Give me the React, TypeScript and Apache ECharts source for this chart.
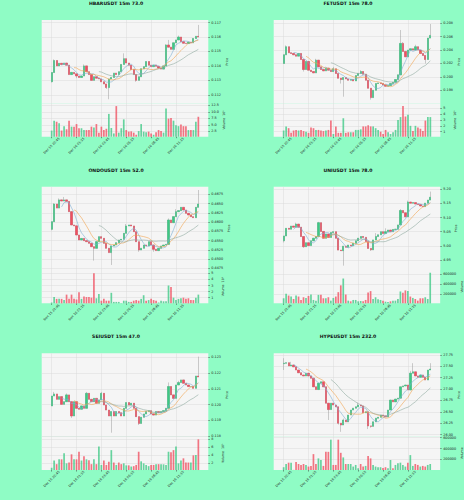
import React, { useEffect, useRef } from "react";
import * as echarts from "echarts";

const FONT = "DejaVu Sans";
const PAGE_BG = "#8ffcc5";
const PLOT_BG = "#f5f5f5";
const GRID_COLOR = "#dadada";
const UP = "#3dc985";
const DOWN = "#ef4f60";
const UP_VOL = "rgba(61,201,133,0.78)";
const DOWN_VOL = "rgba(239,79,96,0.78)";
const WICK = "#9a9a9a";
const MA_PERIODS = [5, 10, 20];
const MA_COLORS = ["#7eaed4", "#f2a24e", "#8fa99f"];

// time axis: 60 candles of 15m, 4 empty slots on each side
const PAD = 4;
const N = 60;
const START_DAY = 15;
const START_MIN = 21 * 60 + 45; // Dec 15 21:45 (4 slots before first candle)
const two = (v: number) => (v < 10 ? "0" + v : "" + v);
const categories: string[] = Array.from({ length: N + 2 * PAD }, (_, k) => {
  const m = START_MIN + 15 * k;
  const d = START_DAY + Math.floor(m / 1440);
  const mm = m % 1440;
  return `Dec ${d} ${two(Math.floor(mm / 60))}:${two(mm % 60)}`;
});

const TITLES = [
  "HBARUSDT 15m 73.0",
  "FETUSDT 15m 78.0",
  "ONDOUSDT 15m 52.0",
  "UNIUSDT 15m 78.0",
  "SEIUSDT 15m 47.0",
  "HYPEUSDT 15m 232.0",
];

// ---------- HBAR ----------
const HBAR_OPEN0 = 0.11291;
const HBAR_CLOSE = [
  0.11354, 0.11437, 0.114, 0.11418, 0.1141, 0.1142, 0.11405, 0.1134, 0.11355, 0.11345,
  0.1133, 0.1132, 0.1133, 0.114, 0.1136, 0.1134, 0.113, 0.11325, 0.11315, 0.1131,
  0.1129, 0.11275, 0.1125, 0.1131, 0.1132, 0.1135, 0.1134, 0.1136, 0.1141, 0.1145,
  0.1142, 0.11405, 0.11375, 0.1134, 0.113, 0.11325, 0.1138, 0.11395, 0.1143, 0.11405,
  0.11395, 0.11405, 0.11398, 0.11385, 0.11378, 0.114, 0.11545, 0.1153, 0.11515, 0.1156,
  0.1158, 0.116, 0.11568, 0.11557, 0.11555, 0.11565, 0.1156, 0.1159, 0.11605, 0.116,
];
const HBAR_HIGH: Record<number, number> = { 1: 0.11445, 13: 0.1141, 29: 0.11487, 46: 0.1155, 47: 0.1158, 51: 0.1161, 59: 0.11684 };
const HBAR_LOW: Record<number, number> = { 0: 0.11285, 10: 0.11315, 22: 0.1124, 23: 0.11169, 34: 0.1129 };
const HBAR_VOL = [
  2.8, 6.6, 6.2, 5.6, 2.8, 4.5, 3.3, 6.6, 4.3, 4.3,
  5.3, 3.7, 3.7, 3.0, 3.0, 3.0, 4.3, 4.0, 5.3, 2.0,
  4.3, 3.0, 3.5, 9.2, 3.8, 1.7, 12.2, 2.0, 3.7, 7.1,
  3.0, 2.4, 2.5, 2.0, 1.2, 2.6, 5.3, 2.4, 2.2, 2.4,
  1.7, 1.2, 2.2, 3.0, 2.6, 2.0, 11.3, 7.4, 7.6, 6.6,
  4.8, 4.5, 5.1, 4.5, 4.5, 3.0, 3.0, 3.0, 6.2, 8.1,
];
const HBAR_PRICE_TICKS = [0.112, 0.113, 0.114, 0.115, 0.116, 0.117];
const HBAR_VOL_TICKS = [2.5, 5, 7.5, 10, 12.5];

// ---------- FET ----------
const FET_OPEN0 = 0.202;
const FET_CLOSE = [
  0.2033, 0.2045, 0.2036, 0.2035, 0.2033, 0.2031, 0.2035, 0.2026, 0.2011, 0.2023,
  0.201, 0.2008, 0.2006, 0.2025, 0.2015, 0.2011, 0.2009, 0.2013, 0.201, 0.2008,
  0.2012, 0.2005, 0.1998, 0.1996, 0.1999, 0.1997, 0.1995, 0.1996, 0.1994, 0.2002,
  0.2005, 0.2008, 0.2004, 0.1995, 0.1983, 0.1969, 0.198, 0.199, 0.1991, 0.199,
  0.1988, 0.1986, 0.1987, 0.199, 0.1992, 0.1996, 0.2003, 0.205, 0.2038, 0.203,
  0.204, 0.2042, 0.204, 0.2045, 0.204, 0.2035, 0.2032, 0.2026, 0.2058, 0.2062,
];
const FET_HIGH: Record<number, number> = { 1: 0.2047, 13: 0.2027, 20: 0.2015, 31: 0.201, 47: 0.207, 48: 0.2052, 53: 0.2048, 59: 0.2079 };
const FET_LOW: Record<number, number> = { 8: 0.2008, 23: 0.199, 24: 0.19704, 35: 0.1966, 57: 0.202 };
const FET_VOL = [
  1.2, 1.9, 1.6, 0.8, 1.2, 1.3, 1.2, 1.3, 1.1, 1.0,
  0.8, 1.7, 1.6, 1.3, 1.3, 1.2, 1.1, 1.2, 1.3, 2.9,
  0.6, 1.9, 0.8, 0.8, 3.3, 0.8, 0.9, 0.9, 0.9, 1.3,
  1.3, 1.4, 1.9, 1.9, 2.1, 1.9, 1.9, 1.6, 1.3, 1.0,
  0.6, 1.3, 0.9, 0.6, 0.9, 1.3, 3.0, 3.5, 5.4, 3.6,
  3.9, 2.0, 1.1, 2.0, 1.7, 1.5, 1.1, 2.9, 3.5, 3.5,
];
const FET_PRICE_TICKS = [0.198, 0.2, 0.202, 0.204, 0.206, 0.208];
const FET_VOL_TICKS = [1, 2, 3, 4, 5];

// ---------- ONDO ----------
const ONDO_OPEN0 = 0.45806;
const ONDO_CLOSE = [
  0.46013, 0.46489, 0.4638, 0.466, 0.4657, 0.466, 0.4656, 0.46283, 0.45923, 0.459,
  0.45653, 0.45518, 0.4556, 0.455, 0.45473, 0.45428, 0.45338, 0.45294, 0.45473, 0.45608,
  0.45563, 0.45428, 0.45294, 0.45177, 0.45356, 0.45383, 0.45446, 0.45518, 0.45536, 0.45698,
  0.45896, 0.45923, 0.45896, 0.45743, 0.45473, 0.45249, 0.45294, 0.45383, 0.45356, 0.45473,
  0.45383, 0.45267, 0.45231, 0.45294, 0.45356, 0.45383, 0.454, 0.46058, 0.45986, 0.46148,
  0.46283, 0.4631, 0.46399, 0.46327, 0.46238, 0.46193, 0.46148, 0.46121, 0.46399, 0.46489,
];
const ONDO_HIGH: Record<number, number> = { 1: 0.4651, 3: 0.4664, 5: 0.4668, 30: 0.4595, 47: 0.461, 50: 0.4635, 59: 0.46867 };
const ONDO_LOW: Record<number, number> = { 0: 0.4578, 17: 0.44961, 24: 0.44844, 35: 0.452, 41: 0.452 };
const ONDO_VOL = [
  0.2, 1.1, 0.8, 0.8, 0.8, 0.6, 1.5, 0.8, 1.5, 0.8,
  0.7, 1.9, 0.8, 1.2, 1.1, 1.1, 1.0, 5.0, 0.9, 1.6,
  0.5, 0.8, 0.5, 0.5, 1.8, 0.3, 0.3, 0.3, 0.1, 0.5,
  0.5, 0.3, 0.3, 0.5, 0.6, 0.5, 0.8, 1.4, 0.5, 0.6,
  0.8, 0.6, 0.5, 0.2, 0.5, 0.4, 0.4, 3.0, 2.75, 1.0,
  0.6, 0.8, 0.9, 1.0, 0.8, 0.9, 0.6, 0.6, 1.0, 1.5,
];
const ONDO_PRICE_TICKS = [0.4475, 0.45, 0.4525, 0.455, 0.4575, 0.46, 0.4625, 0.465, 0.4675];
const ONDO_VOL_TICKS = [1, 2, 3, 4, 5];

// ---------- UNI ----------
const UNI_OPEN0 = 5.018;
const UNI_CLOSE = [
  5.035, 5.062, 5.059, 5.07, 5.066, 5.077, 5.066, 5.033, 4.997, 5.011,
  5.001, 5.018, 5.027, 5.033, 5.082, 5.051, 5.027, 5.042, 5.03, 5.047,
  5.05, 5.027, 4.985, 4.983, 4.999, 4.995, 5.003, 5.0, 5.009, 5.018,
  5.027, 5.033, 5.03, 5.015, 4.991, 4.986, 5.021, 5.033, 5.039, 5.05,
  5.044, 5.05, 5.056, 5.05, 5.058, 5.059, 5.074, 5.125, 5.117, 5.103,
  5.155, 5.151, 5.153, 5.148, 5.146, 5.141, 5.139, 5.151, 5.162, 5.172,
];
const UNI_HIGH: Record<number, number> = { 5: 5.082, 14: 5.085, 37: 5.045, 41: 5.062, 47: 5.13, 50: 5.16, 59: 5.192 };
const UNI_LOW: Record<number, number> = { 0: 5.012, 8: 4.993, 24: 4.93, 35: 4.982 };
const UNI_VOL = [
  117, 207, 172, 152, 103, 172, 152, 83, 138, 124,
  165, 193, 83, 69, 186, 186, 117, 117, 138, 69,
  124, 152, 241, 379, 517, 193, 69, 55, 83, 83,
  55, 62, 55, 83, 234, 262, 103, 138, 97, 83,
  69, 48, 41, 55, 69, 69, 103, 255, 228, 276,
  262, 152, 124, 103, 69, 117, 117, 138, 103, 634,
].map((v) => v * 1000);
const UNI_PRICE_TICKS = [4.95, 5.0, 5.05, 5.1, 5.15, 5.2];
const UNI_VOL_TICKS = [200000, 400000, 600000];

// ---------- SEI ----------
const SEI_OPEN0 = 0.11991;
const SEI_CLOSE = [
  0.12054, 0.12067, 0.12033, 0.1205, 0.12001, 0.12018, 0.12061, 0.12018, 0.11927, 0.12018,
  0.11976, 0.1197, 0.11991, 0.11976, 0.12071, 0.12033, 0.12018, 0.12039, 0.12008, 0.12029,
  0.12071, 0.11997, 0.11965, 0.11927, 0.11955, 0.11927, 0.11955, 0.11948, 0.11927, 0.11976,
  0.12012, 0.11997, 0.12008, 0.11976, 0.11923, 0.1188, 0.11919, 0.1194, 0.11955, 0.11961,
  0.1194, 0.11933, 0.11955, 0.11948, 0.11955, 0.11961, 0.11976, 0.12114, 0.12061, 0.12039,
  0.12124, 0.12139, 0.12156, 0.12135, 0.12124, 0.12114, 0.12114, 0.12103, 0.12181, 0.12175,
];
const SEI_HIGH: Record<number, number> = { 1: 0.1208, 6: 0.1207, 14: 0.1208, 20: 0.1208, 47: 0.1214, 51: 0.1215, 59: 0.12304 };
const SEI_LOW: Record<number, number> = { 8: 0.11915, 24: 0.11821, 35: 0.1187 };
const SEI_VOL = [
  0.9, 2.7, 1.8, 3.0, 3.0, 4.5, 2.0, 2.2, 4.25, 3.0,
  3.0, 4.9, 2.7, 3.8, 3.0, 2.8, 1.8, 3.0, 1.8, 6.2,
  1.6, 2.7, 1.6, 2.4, 5.3, 2.2, 1.6, 2.2, 1.8, 2.0,
  1.5, 1.5, 1.2, 1.3, 1.6, 4.9, 2.5, 2.0, 1.6, 1.3,
  1.6, 1.6, 1.75, 1.8, 1.8, 1.75, 1.6, 4.9, 4.8, 5.3,
  6.2, 2.0, 2.7, 3.25, 2.2, 2.2, 2.2, 4.0, 4.1, 8.0,
];
const SEI_PRICE_TICKS = [0.118, 0.119, 0.12, 0.121, 0.122, 0.123];
const SEI_VOL_TICKS = [2, 4, 6, 8];

// ---------- HYPE ----------
const HYPE_OPEN0 = 27.56;
const HYPE_CLOSE = [
  27.57, 27.58, 27.51, 27.53, 27.49, 27.42, 27.36, 27.31, 27.29, 27.35,
  27.29, 27.24, 27.05, 26.99, 27.13, 27.16, 27.05, 26.69, 26.55, 26.69,
  26.65, 26.61, 26.25, 26.21, 26.32, 26.28, 26.43, 26.54, 26.58, 26.61,
  26.65, 26.63, 26.48, 26.5, 26.19, 26.18, 26.28, 26.36, 26.38, 26.43,
  26.41, 26.39, 26.54, 26.76, 26.72, 26.78, 26.8, 27.05, 27.07, 27.09,
  26.98, 27.35, 27.38, 27.29, 27.26, 27.31, 27.26, 27.2, 27.42, 27.44,
];
const HYPE_HIGH: Record<number, number> = { 0: 27.68, 3: 27.6, 24: 26.35, 30: 26.7, 51: 27.4, 52: 27.57, 59: 27.57 };
const HYPE_LOW: Record<number, number> = { 0: 27.42, 18: 26.32, 22: 26.22, 23: 26.06, 34: 26.12, 35: 26.15 };
const HYPE_VOL = [
  55, 115, 139, 139, 6, 151, 115, 97, 115, 97,
  67, 79, 297, 115, 218, 188, 79, 339, 339, 564,
  97, 97, 564, 321, 236, 115, 115, 115, 67, 97,
  36, 115, 67, 79, 261, 218, 97, 67, 55, 55,
  42, 55, 36, 188, 36, 97, 127, 139, 97, 67,
  139, 279, 79, 115, 97, 67, 79, 67, 97, 115,
].map((v) => v * 1000);
const HYPE_PRICE_TICKS = [26.0, 26.25, 26.5, 26.75, 27.0, 27.25, 27.5, 27.75];
const HYPE_VOL_TICKS = [200000, 400000, 600000];

const PANELS = [
  { title: TITLES[0], open0: HBAR_OPEN0, close: HBAR_CLOSE, high: HBAR_HIGH, low: HBAR_LOW, vol: HBAR_VOL, pTicks: HBAR_PRICE_TICKS, pMin: 0.11141, pMax: 0.11718, pDec: 3, vTicks: HBAR_VOL_TICKS, vMin: 0.45, vMax: 13.27, vDec: 1, vName: "Volume  10⁶" },
  { title: TITLES[1], open0: FET_OPEN0, close: FET_CLOSE, high: FET_HIGH, low: FET_LOW, vol: FET_VOL, pTicks: FET_PRICE_TICKS, pMin: 0.19605, pMax: 0.2085, pDec: 3, vTicks: FET_VOL_TICKS, vMin: 0.14, vMax: 5.86, vDec: 0, vName: "Volume  10⁶" },
  { title: TITLES[2], open0: ONDO_OPEN0, close: ONDO_CLOSE, high: ONDO_HIGH, low: ONDO_LOW, vol: ONDO_VOL, pTicks: ONDO_PRICE_TICKS, pMin: 0.44709, pMax: 0.46957, pDec: 4, vTicks: ONDO_VOL_TICKS, vMin: 0.06, vMax: 5.56, vDec: 0, vName: "Volume  10⁶" },
  { title: TITLES[3], open0: UNI_OPEN0, close: UNI_CLOSE, high: UNI_HIGH, low: UNI_LOW, vol: UNI_VOL, pTicks: UNI_PRICE_TICKS, pMin: 4.9147, pMax: 5.2094, pDec: 2, vTicks: UNI_VOL_TICKS, vMin: 14000, vMax: 690000, vDec: 0, vName: "Volume" },
  { title: TITLES[4], open0: SEI_OPEN0, close: SEI_CLOSE, high: SEI_HIGH, low: SEI_LOW, vol: SEI_VOL, pTicks: SEI_PRICE_TICKS, pMin: 0.11796, pMax: 0.12325, pDec: 3, vTicks: SEI_VOL_TICKS, vMin: 0.33, vMax: 8.67, vDec: 0, vName: "Volume  10⁶" },
  { title: TITLES[5], open0: HYPE_OPEN0, close: HYPE_CLOSE, high: HYPE_HIGH, low: HYPE_LOW, vol: HYPE_VOL, pTicks: HYPE_PRICE_TICKS, pMin: 25.954, pMax: 27.787, pDec: 2, vTicks: HYPE_VOL_TICKS, vMin: 3000, vMax: 620000, vDec: 0, vName: "Volume" },
];

const tickIdx = (idx: number) => idx >= PAD && idx - PAD < N && (idx - PAD) % 10 === 0;

function buildOption() {
  const grid: any[] = [];
  const xAxis: any[] = [];
  const yAxis: any[] = [];
  const series: any[] = [];
  const graphic: any[] = [];
  const CELL_H = 500 / 3;

  PANELS.forEach((p, k) => {
    const col = k % 2;
    const row = Math.floor(k / 2);
    const x0 = col * 232;
    const y0 = row * CELL_H;
    const left = x0 + 41.7;
    const width = 166.6;
    const gp = 2 * k;
    const gv = 2 * k + 1;
    grid.push({ left, top: y0 + 20, width, height: 83.3, show: true, backgroundColor: PLOT_BG, borderWidth: 0 });
    grid.push({ left, top: y0 + 103.3, width, height: 33.4, show: true, backgroundColor: PLOT_BG, borderWidth: 0 });

    const baseX = {
      type: "category",
      data: categories,
      boundaryGap: false,
      axisLine: { show: false },
      splitLine: { show: true, interval: (i: number) => tickIdx(i), lineStyle: { color: GRID_COLOR, width: 0.5 } },
    };
    xAxis.push({ ...baseX, gridIndex: gp, axisLabel: { show: false }, axisTick: { show: false } });
    xAxis.push({
      ...baseX,
      gridIndex: gv,
      axisTick: { show: true, interval: (i: number) => tickIdx(i), length: 1.5, lineStyle: { color: "#333", width: 0.5 } },
      axisLabel: {
        show: true,
        interval: (i: number) => tickIdx(i),
        rotate: 45,
        align: "center",
        verticalAlign: "middle",
        margin: 9,
        fontSize: 3.2,
        fontFamily: FONT,
        color: "#222",
      },
    });

    const yBase = (ticks: number[], dec: number, min: number, max: number, name: string, gi: number, gap: number) => ({
      type: "value",
      gridIndex: gi,
      position: "right",
      min,
      max,
      name,
      nameLocation: "middle",
      nameRotate: 90,
      nameGap: gap,
      nameTextStyle: { fontSize: 3.2, fontFamily: FONT, color: "#222" },
      axisLine: { show: false },
      axisTick: { show: true, customValues: ticks, length: 1.5, lineStyle: { color: "#333", width: 0.5 } },
      axisLabel: {
        customValues: ticks,
        formatter: (v: number) => v.toFixed(dec),
        fontSize: 3.4,
        fontFamily: FONT,
        color: "#222",
        margin: 3,
      },
      splitLine: { show: true, lineStyle: { color: GRID_COLOR, width: 0.5 } },
    });
    yAxis.push(yBase(p.pTicks, p.pDec, p.pMin, p.pMax, "Price", gp, 12));
    yAxis.push(yBase(p.vTicks, p.vDec, p.vMin, p.vMax, p.vName, gv, 13));

    const opens = p.close.map((c, i) => (i === 0 ? p.open0 : p.close[i - 1]));
    const full = p.close.map((c, i) => {
      const o = opens[i];
      const h = Math.max(p.high[i] ?? Math.max(o, c), o, c);
      const l = Math.min(p.low[i] ?? Math.min(o, c), o, c);
      return [i + PAD, o, c, l, h];
    });
    const bodies = p.close.map((c, i) => {
      const o = opens[i];
      return [i + PAD, o, c, Math.min(o, c), Math.max(o, c)];
    });

    series.push({
      type: "candlestick",
      xAxisIndex: gp,
      yAxisIndex: gp,
      data: full,
      encode: { x: 0, y: [1, 2, 3, 4] },
      barWidth: 1.7,
      z: 2,
      itemStyle: { color: WICK, color0: WICK, borderColor: WICK, borderColor0: WICK, borderWidth: 0.5 },
    });
    series.push({
      type: "candlestick",
      xAxisIndex: gp,
      yAxisIndex: gp,
      data: bodies,
      encode: { x: 0, y: [1, 2, 3, 4] },
      barWidth: 1.7,
      z: 3,
      itemStyle: { color: UP, color0: DOWN, borderColor: UP, borderColor0: DOWN, borderWidth: 0.4 },
    });

    MA_PERIODS.forEach((per, mi) => {
      const pts: any[] = [];
      for (let i = per - 1; i < p.close.length; i++) {
        let s = 0;
        for (let j = i - per + 1; j <= i; j++) s += p.close[j];
        pts.push([i + PAD, s / per]);
      }
      series.push({
        type: "line",
        xAxisIndex: gp,
        yAxisIndex: gp,
        data: pts,
        showSymbol: false,
        symbol: "none",
        z: 4,
        lineStyle: { color: MA_COLORS[mi], width: 0.6 },
      });
    });

    series.push({
      type: "bar",
      xAxisIndex: gv,
      yAxisIndex: gv,
      barWidth: 1.7,
      data: p.vol.map((v, i) => ({
        value: [i + PAD, v],
        itemStyle: { color: p.close[i] >= opens[i] ? UP_VOL : DOWN_VOL },
      })),
    });

    graphic.push({
      type: "text",
      x: x0 + 116,
      y: y0 + 3.4,
      style: {
        text: p.title,
        fill: "#111",
        font: `bold 4.6px "${FONT}"`,
        textAlign: "center",
        textVerticalAlign: "middle",
      },
    });
  });

  return {
    animation: false,
    backgroundColor: PAGE_BG,
    grid,
    xAxis,
    yAxis,
    series,
    graphic,
  };
}

export default function App() {
  const ref = useRef<HTMLDivElement>(null);
  useEffect(() => {
    document.body.style.margin = "0";
    document.body.style.background = PAGE_BG;
    if (!ref.current) return;
    const chart = echarts.init(ref.current, undefined, { renderer: "svg" });
    chart.setOption(buildOption() as any);
    return () => chart.dispose();
  }, []);
  return <div ref={ref} style={{ position: "absolute", left: 0, top: 0, width: 464, height: 500 }} />;
}
